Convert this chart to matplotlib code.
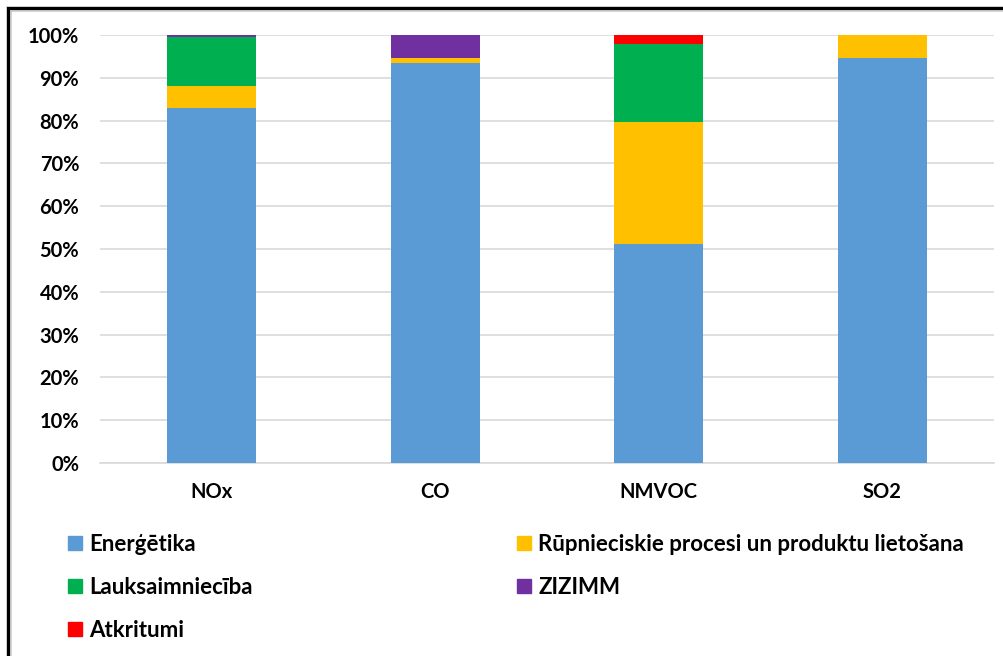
import matplotlib
matplotlib.use("Agg")
import matplotlib.pyplot as plt
from matplotlib.patches import Rectangle
from matplotlib.lines import Line2D
from matplotlib.ticker import PercentFormatter
import numpy as np

plt.rcParams['font.family'] = ['Lato', 'DejaVu Sans']
plt.rcParams['font.weight'] = 'bold'

categories = ["NOx", "CO", "NMVOC", "SO2"]
series_names = ["Enerģētika", "Rūpnieciskie procesi un produktu lietošana",
                "Lauksaimniecība", "ZIZIMM", "Atkritumi"]
energetika = [83.0, 93.4, 51.2, 94.7]
rupniecibas = [5.1, 1.3, 28.5, 5.3]
lauksaimnieciba = [11.4, 0.0, 18.3, 0.0]
zizimm = [0.5, 5.3, 0.0, 0.0]
atkritumi = [0.0, 0.0, 2.0, 0.0]
colors = ["#5B9BD5", "#FFC000", "#00B050", "#7030A0", "#FF0000"]

series = [energetika, rupniecibas, lauksaimnieciba, zizimm, atkritumi]

fig = plt.figure(figsize=(10.04, 6.56), dpi=100)
ax = fig.add_axes([100 / 1004, 1 - 463 / 656, 894 / 1004, 428 / 656])

x = np.arange(len(categories))
bottom = np.zeros(len(categories))
for vals, col, name in zip(series, colors, series_names):
    ax.bar(x, vals, width=0.4, bottom=bottom, color=col, label=name, zorder=3)
    bottom += np.array(vals)

ax.set_xlim(-0.5, len(categories) - 0.5)
ax.set_ylim(0, 100)
ax.set_yticks(np.arange(0, 101, 10))
ax.yaxis.set_major_formatter(PercentFormatter(decimals=0))
ax.set_xticks(x)
ax.set_xticklabels(categories)
ax.grid(axis='y', color='#d9d9d9', linewidth=1.2, zorder=0)
for s in ['top', 'right', 'left']:
    ax.spines[s].set_visible(False)
ax.spines['bottom'].set_color('#d9d9d9')
ax.spines['bottom'].set_linewidth(1.2)
ax.tick_params(axis='both', length=0, labelsize=14.5, colors='black')
ax.tick_params(axis='y', pad=15)
ax.tick_params(axis='x', pad=14)

# legend in two columns, row-major order
def handle(c):
    return Line2D([], [], marker='s', linestyle='none', markersize=10,
                  markerfacecolor=c, markeredgecolor=c)

left_idx = [0, 2, 4]
right_idx = [1, 3]
leg_kw = dict(frameon=False, fontsize=16, handlelength=0.7, handletextpad=0.3,
              labelspacing=0.98, borderaxespad=0, borderpad=0,
              loc='upper left')
leg1 = fig.legend([handle(colors[i]) for i in left_idx],
                  [series_names[i] for i in left_idx],
                  bbox_to_anchor=(67 / 1004, 1 - 534 / 656), **leg_kw)
leg2 = fig.legend([handle(colors[i]) for i in right_idx],
                  [series_names[i] for i in right_idx],
                  bbox_to_anchor=(516 / 1004, 1 - 534 / 656), **leg_kw)

# outer chart frame with soft shadow
fig.patches.append(Rectangle((9 / 1004, -0.05), 1.2, 1 - 9 / 656 + 0.05,
                             transform=fig.transFigure, fill=False,
                             edgecolor='#c8c8c8', linewidth=4.0, zorder=0))
fig.patches.append(Rectangle((8 / 1004, -0.05), 1.2, 1 - 8 / 656 + 0.05,
                             transform=fig.transFigure, fill=False,
                             edgecolor='black', linewidth=2.2, zorder=1))

fig.savefig("out.png", dpi=100, facecolor='white')
